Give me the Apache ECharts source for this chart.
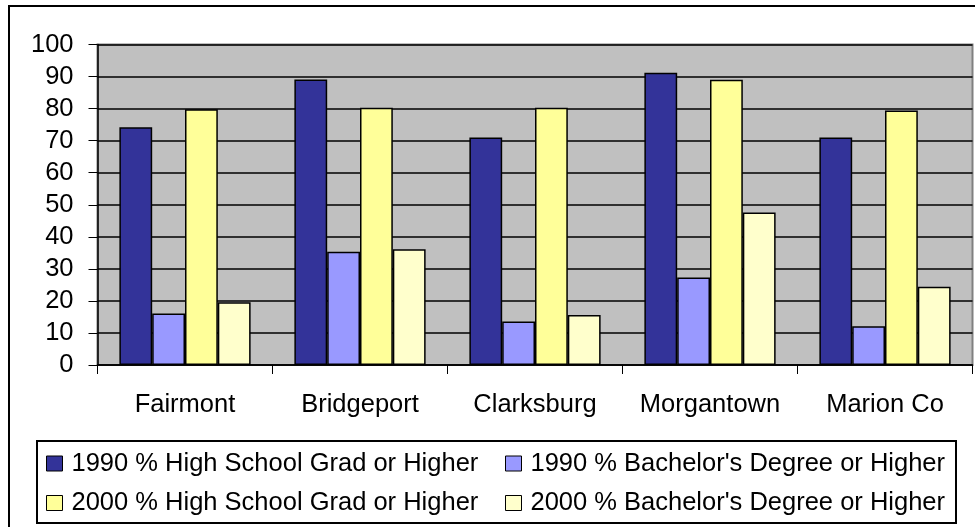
<!DOCTYPE html>
<html>
<head>
<meta charset="utf-8">
<title>Education attainment</title>
<script src="https://cdn.jsdelivr.net/npm/echarts@6/dist/echarts.min.js"></script>
<style>
  html, body { margin: 0; padding: 0; background: #fff; }
  #chart { width: 975px; height: 527px; }
</style>
</head>
<body>
<div id="chart"></div>
<script>
const categories = ['Fairmont', 'Bridgeport', 'Clarksburg', 'Morgantown', 'Marion Co']
const seriesNames = [
  '1990 % High School Grad or Higher',
  "1990 % Bachelor's Degree or Higher",
  '2000 % High School Grad or Higher',
  "2000 % Bachelor's Degree or Higher"
]
const hs1990 = [74.2, 89.1, 71.0, 91.2, 71.0]
const ba1990 = [16.1, 35.3, 13.6, 27.3, 12.1]
const hs2000 = [79.8, 80.3, 80.3, 89.0, 79.4]
const ba2000 = [19.6, 36.1, 15.6, 47.6, 24.4]
const colors = ['#333399', '#9999FF', '#FFFF99', '#FFFFCC']

const font = 'Liberation Sans, Arial, sans-serif'
const chart = echarts.init(document.getElementById('chart'))

// one legend per cell so the 2x2 layout lines up like the original
const legendPos = [[46, 450.5], [505, 450.5], [46, 490], [505, 490]]
const legends = seriesNames.map((name, i) => ({
  data: [name],
  left: legendPos[i][0],
  top: legendPos[i][1],
  padding: 0,
  itemWidth: 16,
  itemHeight: 15,
  icon: 'rect',
  itemStyle: { borderColor: '#000', borderWidth: 1 },
  textStyle: { fontFamily: font, fontSize: 25.5, color: '#000', padding: [0, 0, 0, 4] },
  selectedMode: false
}))

const option = {
  animation: false,
  textStyle: { fontFamily: font },
  graphic: [
    {
      type: 'rect',
      shape: { x: 9, y: 6, width: 1000, height: 600 },
      style: { fill: 'none', stroke: '#000', lineWidth: 2 },
      silent: true
    },
    {
      type: 'rect',
      shape: { x: 37, y: 441, width: 919, height: 82 },
      style: { fill: 'none', stroke: '#000', lineWidth: 2 },
      silent: true
    }
  ],
  legend: legends,
  grid: {
    left: 97.5,
    right: 2.5,
    top: 44.5,
    bottom: 162,
    show: true,
    backgroundColor: '#C0C0C0',
    borderColor: '#808080',
    borderWidth: 2
  },
  xAxis: {
    type: 'category',
    data: categories,
    axisLine: { lineStyle: { color: '#000', width: 1.5 } },
    axisTick: { show: true, length: 9, lineStyle: { color: '#000' } },
    axisLabel: { color: '#000', fontSize: 25.5, margin: 27, interval: 0, fontFamily: font },
    splitLine: { show: false }
  },
  yAxis: {
    type: 'value',
    min: 0,
    max: 100,
    interval: 10,
    axisLine: { show: true, lineStyle: { color: '#000', width: 1.5 } },
    axisTick: { show: true, length: 9, lineStyle: { color: '#000' } },
    axisLabel: { color: '#000', fontSize: 25.5, margin: 24, fontFamily: font },
    splitLine: { show: true, lineStyle: { color: '#000', width: 1.5 } }
  },
  series: [hs1990, ba1990, hs2000, ba2000].map((d, i) => ({
    name: seriesNames[i],
    type: 'bar',
    data: d,
    barGap: '0%',
    barCategoryGap: '25%',
    itemStyle: { color: colors[i], borderColor: '#000', borderWidth: 1.5 }
  }))
}

chart.setOption(option)
</script>
</body>
</html>
